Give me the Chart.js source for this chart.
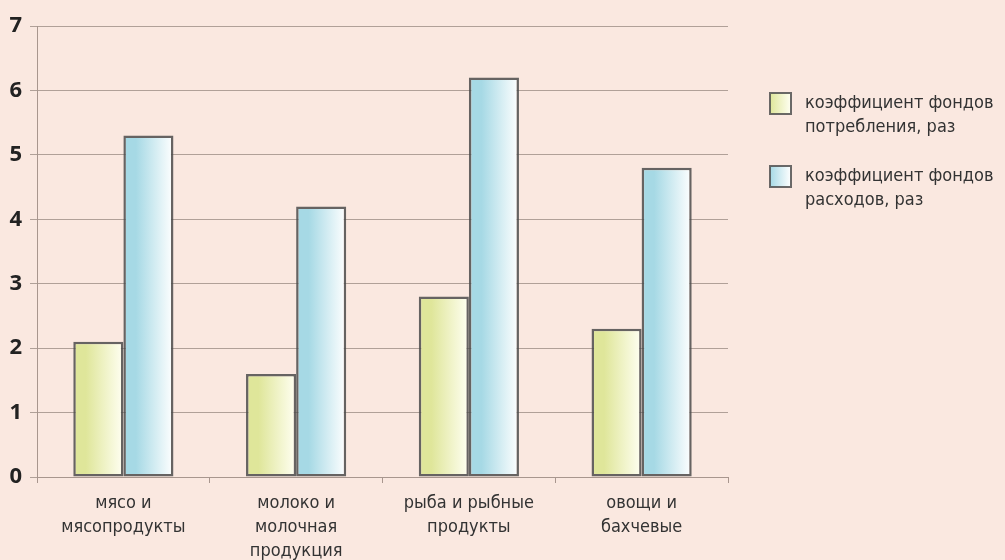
<!DOCTYPE html>
<html>
<head>
<meta charset="utf-8">
<script src="https://cdn.jsdelivr.net/npm/chart.js@4/dist/chart.umd.min.js"></script>
<style>
  html, body { margin: 0; padding: 0; background: #fae8e0; }
  #wrap { width: 1005px; height: 560px; }
</style>
</head>
<body>
<div id="wrap"><canvas id="grafico" width="1005" height="560"></canvas></div>
<script>
// Данные диаграммы
const categorias = [
  ['мясо и', 'мясопродукты'],
  ['молоко и', 'молочная', 'продукция'],
  ['рыба и рыбные', 'продукты'],
  ['овощи и', 'бахчевые']
];
const fondPotrebleniya = [2.1, 1.6, 2.8, 2.3];
const fondRashodov = [5.3, 4.2, 6.2, 4.8];
const legendaTexty = [
  ['коэффициент фондов', 'потребления, раз'],
  ['коэффициент фондов', 'расходов, раз']
];

const catPct = 0.58;
const fuenteNarrow = "'Liberation Sans Narrow', 'DejaVu Sans Condensed', sans-serif";

// Цвета градиентов: левый край -> правый край
const gradColores = [
  ['#dfe69a', '#fffff2'],
  ['#a6d9e5', '#ffffff']
];

function gradBarra(ctx) {
  const chart = ctx.chart;
  const xs = chart.scales.x;
  if (!xs || !chart.chartArea) return gradColores[ctx.datasetIndex][0];
  const centro = xs.getPixelForValue(ctx.dataIndex);
  const catW = xs.width / categorias.length;
  const barW = catW * catPct / 2;
  const izq = ctx.datasetIndex === 0 ? centro - barW : centro;
  const g = chart.ctx.createLinearGradient(izq, 0, izq + barW, 0);
  const c = gradColores[ctx.datasetIndex];
  g.addColorStop(0, c[0]);
  g.addColorStop(0.25, c[0]);
  g.addColorStop(1, c[1]);
  return g;
}

// Легенда справа (две строки текста)
const leyendaPlugin = {
  id: 'leyendaDerecha',
  afterDraw(chart) {
    const c = chart.ctx;
    const posY = [93, 166];
    c.save();
    legendaTexty.forEach((lineas, i) => {
      const x = 770, y = posY[i], s = 21;
      const g = c.createLinearGradient(x, 0, x + s, 0);
      g.addColorStop(0, gradColores[i][0]);
      g.addColorStop(1, gradColores[i][1]);
      c.fillStyle = g;
      c.fillRect(x, y, s, s);
      c.strokeStyle = 'rgba(80,80,80,0.85)';
      c.lineWidth = 2;
      c.strokeRect(x, y, s, s);
      c.fillStyle = '#333';
      c.font = '18px ' + fuenteNarrow;
      c.textBaseline = 'middle';
      lineas.forEach((t, k) => c.fillText(t, 805, y + 10 + k * 24));
    });
    c.restore();
  }
};

const ctx = document.getElementById('grafico').getContext('2d');
new Chart(ctx, {
  type: 'bar',
  data: {
    labels: categorias,
    datasets: [{
      label: legendaTexty[0].join(' '),
      data: fondPotrebleniya,
      backgroundColor: gradBarra,
      borderColor: 'rgba(75,75,75,0.85)',
      borderWidth: 2.5,
      borderSkipped: false
    }, {
      label: legendaTexty[1].join(' '),
      data: fondRashodov,
      backgroundColor: gradBarra,
      borderColor: 'rgba(75,75,75,0.85)',
      borderWidth: 2.5,
      borderSkipped: false
    }]
  },
  options: {
    responsive: false,
    animation: false,
    layout: { padding: { top: 26, right: 277, left: 0, bottom: 0 } },
    datasets: { bar: { barPercentage: 1, categoryPercentage: catPct } },
    plugins: {
      legend: { display: false },
      tooltip: { enabled: false }
    },
    scales: {
      x: {
        grid: { offset: true, drawOnChartArea: false, tickLength: 6, color: '#a8968e' },
        border: { color: '#a8968e' },
        ticks: {
          color: '#333',
          font: { family: fuenteNarrow, size: 18, lineHeight: 1.33 },
          padding: 8,
          maxRotation: 0
        },
        afterFit: (s) => { s.height = 83; }
      },
      y: {
        min: 0, max: 7,
        ticks: {
          stepSize: 1,
          color: '#222',
          padding: 8,
          font: { family: "'Open Sans', sans-serif", size: 22, weight: 'bold' }
        },
        grid: { color: '#b0a098', tickLength: 7 },
        border: { color: '#a8968e' },
        afterFit: (s) => { s.width = 37; }
      }
    }
  },
  plugins: [leyendaPlugin]
});
</script>
</body>
</html>
